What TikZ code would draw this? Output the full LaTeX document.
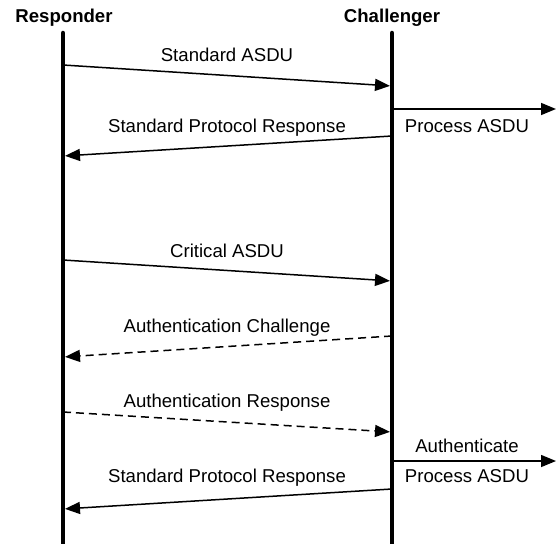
\documentclass[tikz,border=0pt]{standalone}
\usepackage{fontspec}
\setmainfont{Liberation Sans}
\usetikzlibrary{positioning, arrows.meta}

\begin{document}
\begin{tikzpicture}[x=1pt, y=-1pt,
    font=\fontsize{18.6}{22}\selectfont,
    lifeline/.style={line width=4.5pt, line cap=round},
    msg/.style={-{Triangle[length=15pt, width=12pt]}, line width=1.5pt, shorten >=2pt},
    authmsg/.style={msg, dash pattern=on 8pt off 5pt},
    lbl/.style={anchor=base, inner sep=0pt},
    party/.style={lbl, font=\fontsize{18.6}{22}\selectfont\bfseries}]

  \useasboundingbox (0,0) rectangle (556,543);

  \node[party] (resp) at (64,23) {Responder};
  \node[party] (chal) at (392,23) {Challenger};

  \coordinate (rtop) at (63,33);
  \coordinate (rbot) at (63,550);
  \coordinate (ctop) at (392,33);
  \coordinate (cbot) at (392,550);
  \draw[lifeline] (rtop) -- (rbot);
  \draw[lifeline] (ctop) -- (cbot);

  % message ends on the lifelines
  \coordinate (r1) at (63,65);   \coordinate (c1) at (392,86);
  \coordinate (c2) at (392,136); \coordinate (r2) at (63,156);
  \coordinate (r3) at (63,260);  \coordinate (c3) at (392,281);
  \coordinate (c4) at (392,336); \coordinate (r4) at (63,357);
  \coordinate (r5) at (63,412);  \coordinate (c5) at (392,432);
  \coordinate (c6) at (392,489); \coordinate (r6) at (63,509);
  \coordinate (out1) at (556,109);
  \coordinate (out2) at (556,461);

  \draw[msg] (r1) -- (c1);
  \draw[msg] (c2) -- (r2);
  \draw[msg] (r3) -- (c3);
  \draw[authmsg] (c4) -- (r4);
  \draw[authmsg] (r5) -- (c5);
  \draw[msg] (c6) -- (r6);
  \draw[msg, shorten >=0pt] (c1 |- out1) -- (out1);
  \draw[msg, shorten >=0pt] (c5 |- out2) -- (out2);

  \node[lbl] (stdasdu) at (227,62) {Standard ASDU};
  \node[lbl] (stdresp) at (227,132) {Standard Protocol Response};
  \node[lbl] (proc1) at (467,132) {Process ASDU};
  \node[lbl] (critasdu) at (227,257) {Critical ASDU};
  \node[lbl] (authchal) at (227,332) {Authentication Challenge};
  \node[lbl] (authresp) at (227,407) {Authentication Response};
  \node[lbl] (authent) at (467,452) {Authenticate};
  \node[lbl] (stdresp2) at (227,482) {Standard Protocol Response};
  \node[lbl] (proc2) at (467,482) {Process ASDU};

\end{tikzpicture}
\end{document}
